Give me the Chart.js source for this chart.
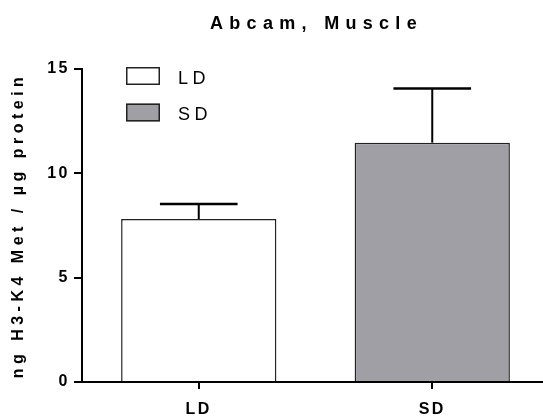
<!DOCTYPE html>
<html>
<head>
<meta charset="utf-8">
<script src="https://cdn.jsdelivr.net/npm/chart.js@4"></script>
<style>
  html, body { margin: 0; padding: 0; background: #fff; overflow: hidden; }
  #wrap { width: 549px; height: 419px; }
</style>
</head>
<body>
<div id="wrap"><canvas id="chart" width="549" height="419"></canvas></div>
<script>
const groups = ["LD", "SD"];
const means = [7.81, 11.47];
const errors = [0.72, 2.59];
const yTicks = [0, 5, 10, 15];
const fills = ["#ffffff", "#a09fa5"];
const chartTitle = "Abcam, Muscle";
const yTitle = "ng H3-K4 Met / \u00b5g protein";

const FONT = "'Liberation Sans', Arial, sans-serif";

// error bars, up only, with a wide cap
const errorBars = {
  id: "errorBars",
  afterDatasetsDraw(chart) {
    const ctx = chart.ctx;
    const y = chart.scales.y;
    const meta = chart.getDatasetMeta(0);
    ctx.save();
    ctx.strokeStyle = "#000";
    meta.data.forEach((bar, i) => {
      const top = y.getPixelForValue(means[i]);
      const hi = y.getPixelForValue(means[i] + errors[i]);
      const half = bar.width * 0.25;
      ctx.lineWidth = 2;
      ctx.beginPath();
      ctx.moveTo(bar.x, top);
      ctx.lineTo(bar.x, hi);
      ctx.stroke();
      ctx.lineWidth = 2.5;
      ctx.beginPath();
      ctx.moveTo(bar.x - half, hi);
      ctx.lineTo(bar.x + half, hi);
      ctx.stroke();
    });
    ctx.restore();
    // x axis labels are drawn after the bars, wider spacing
    ctx.letterSpacing = "5.5px";
  },
};

const spacing = {
  id: "spacing",
  beforeDraw(chart) {
    chart.ctx.letterSpacing = "2.5px";
  },
  afterDraw(chart) {
    const ctx = chart.ctx;
    const area = chart.chartArea;
    ctx.save();
    ctx.fillStyle = "#000";
    ctx.textBaseline = "middle";
    ctx.textAlign = "center";

    ctx.letterSpacing = "6.3px";
    ctx.font = "bold 18px " + FONT;
    ctx.fillText(chartTitle, (area.left + area.right) / 2 + 1, 24);

    ctx.letterSpacing = "4.5px";
    ctx.font = "bold 16px " + FONT;
    ctx.save();
    ctx.translate(19, (area.top + area.bottom) / 2);
    ctx.rotate(-Math.PI / 2);
    ctx.fillText(yTitle, 0, 0);
    ctx.restore();

    // legend
    ctx.letterSpacing = "4.5px";
    ctx.font = "18px " + FONT;
    ctx.textAlign = "left";
    ctx.lineWidth = 1.5;
    ctx.strokeStyle = "#222";
    groups.forEach((g, i) => {
      const by = 67 + i * 36.5;
      ctx.fillStyle = fills[i];
      ctx.fillRect(126, by, 34, 18);
      ctx.strokeRect(126.75, by + 0.75, 32.5, 16.5);
      ctx.fillStyle = "#000";
      ctx.fillText(g, 178, by + 12);
    });
    ctx.restore();
    ctx.letterSpacing = "0px";
  },
};

new Chart(document.getElementById("chart"), {
  type: "bar",
  data: {
    labels: groups,
    datasets: [
      {
        data: means,
        backgroundColor: fills,
        borderColor: "#222",
        borderWidth: 1.5,
        borderSkipped: "start",
        barPercentage: 0.665,
        categoryPercentage: 1,
      },
    ],
  },
  options: {
    responsive: false,
    animation: false,
    devicePixelRatio: 1,
    layout: { padding: { top: 69, right: 0, bottom: 0, left: 0 } },
    plugins: {
      legend: { display: false },
      title: { display: false },
      tooltip: { enabled: false },
    },
    scales: {
      x: {
        z: 1,
        offset: true,
        afterFit(scale) {
          scale.height = 37;
        },
        grid: {
          offset: false,
          drawOnChartArea: false,
          drawTicks: true,
          tickLength: 7,
          color: "#000",
          lineWidth: 2,
        },
        border: { color: "#000", width: 2 },
        ticks: {
          color: "#000",
          padding: 11,
          font: { family: FONT, size: 16, weight: "bold" },
        },
      },
      y: {
        min: 0,
        max: 15,
        afterFit(scale) {
          scale.width = 82;
        },
        afterBuildTicks(scale) {
          scale.ticks = yTicks.map((v) => ({ value: v }));
        },
        grid: {
          drawOnChartArea: false,
          drawTicks: true,
          tickLength: 8,
          color: "#000",
          lineWidth: 2,
        },
        border: { color: "#000", width: 2 },
        ticks: {
          color: "#000",
          padding: 4,
          font: { family: FONT, size: 16, weight: "bold" },
        },
      },
    },
  },
  plugins: [spacing, errorBars],
});
</script>
</body>
</html>
